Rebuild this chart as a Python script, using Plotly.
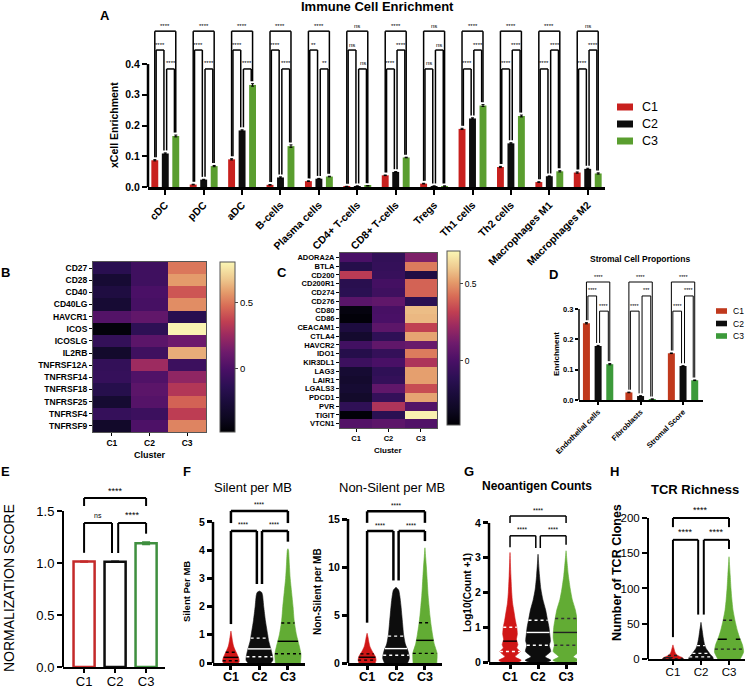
import numpy as np
import plotly.graph_objects as go

W, H = 749, 688
FONT = "Liberation Sans, Arial, Helvetica, sans-serif"


def PX(px):
    return px / W


def PY(py):
    return 1 - py / H


# ======================= DATA =======================
clusters = ["C1", "C2", "C3"]

# --- A: immune cell enrichment (xCell)
immune_cells = ["cDC", "pDC", "aDC", "B-cells", "Plasma cells", "CD4+ T-cells",
                "CD8+ T-cells", "Tregs", "Th1 cells", "Th2 cells",
                "Macrophages M1", "Macrophages M2"]
immune_c1 = [0.087, 0.008, 0.090, 0.007, 0.019, 0.002, 0.038, 0.011, 0.189, 0.065, 0.016, 0.047]
immune_c2 = [0.109, 0.024, 0.184, 0.031, 0.027, 0.003, 0.049, 0.003, 0.223, 0.142, 0.035, 0.059]
immune_c3 = [0.166, 0.068, 0.332, 0.133, 0.034, 0.004, 0.096, 0.003, 0.265, 0.231, 0.051, 0.044]
immune_err_c1 = [0.002, 0.001, 0.002, 0.001, 0.001, 0.0005, 0.001, 0.001, 0.002, 0.002, 0.001, 0.002]
immune_err_c2 = [0.002, 0.001, 0.002, 0.002, 0.001, 0.0005, 0.001, 0.0005, 0.002, 0.002, 0.001, 0.002]
immune_err_c3 = [0.003, 0.002, 0.004, 0.004, 0.001, 0.0005, 0.001, 0.0005, 0.003, 0.003, 0.002, 0.002]
immune_sig_c1c3 = ["****", "****", "****", "****", "****", "ns", "****", "ns", "****", "****", "****", "ns"]
immune_sig_c1c2 = ["****", "****", "****", "****", "**", "ns", "****", "ns", "****", "****", "****", "****"]
immune_sig_c2c3 = ["****", "****", "****", "****", "**", "ns", "****", "ns", "****", "****", "****", "****"]

# --- B: co-stimulatory genes heatmap
genes_B = ["CD27", "CD28", "CD40", "CD40LG", "HAVCR1", "ICOS", "ICOSLG", "IL2RB",
           "TNFRSF12A", "TNFRSF14", "TNFRSF18", "TNFRSF25", "TNFRSF4", "TNFRSF9"]
heatB_c1 = [-0.15, -0.28, -0.22, -0.28, 0.03, -0.45, -0.10, -0.32, -0.10, -0.09, -0.17, -0.29, -0.09, -0.33]
heatB_c2 = [-0.05, -0.05, 0.00, -0.02, 0.08, -0.12, 0.06, -0.05, 0.26, 0.02, 0.06, 0.04, -0.06, 0.01]
heatB_c3 = [0.50, 0.58, 0.42, 0.55, -0.15, 0.80, 0.12, 0.62, -0.06, 0.22, 0.32, 0.45, 0.35, 0.53]

# --- C: co-inhibitory genes heatmap
genes_C = ["ADORA2A", "BTLA", "CD200", "CD200R1", "CD274", "CD276", "CD80", "CD86",
           "CEACAM1", "CTLA4", "HAVCR2", "IDO1", "KIR3DL1", "LAG3", "LAIR1",
           "LGALS3", "PDCD1", "PVR", "TIGIT", "VTCN1"]
heatC_c1 = [0.00, -0.15, 0.30, -0.13, -0.12, 0.05, -0.38, -0.40, -0.20, -0.27,
            -0.03, -0.15, -0.05, -0.25, -0.27, -0.25, -0.28, -0.10, -0.40, 0.03]
heatC_c2 = [-0.09, -0.08, -0.07, -0.02, -0.04, 0.07, -0.01, 0.00, 0.06, -0.10,
            0.07, -0.08, 0.00, -0.10, -0.08, 0.07, -0.08, 0.27, -0.12, 0.06]
heatC_c3 = [0.15, 0.45, -0.18, 0.40, 0.40, -0.12, 0.58, 0.57, 0.32, 0.53,
            0.10, 0.45, 0.27, 0.52, 0.52, 0.35, 0.53, 0.03, 0.70, 0.02]

# --- D: stromal cell proportions
stromal_cats = ["Endothelial cells", "Fibroblasts", "Stromal Score"]
stromal_c1 = [0.253, 0.025, 0.154]
stromal_c2 = [0.178, 0.013, 0.112]
stromal_c3 = [0.118, 0.003, 0.065]
stromal_err_c1 = [0.002, 0.001, 0.001]
stromal_err_c2 = [0.002, 0.001, 0.001]
stromal_err_c3 = [0.002, 0.0005, 0.001]
stromal_sig_c1c3 = ["****", "****", "****"]
stromal_sig_c1c2 = ["****", "****", "****"]
stromal_sig_c2c3 = ["****", "***", "****"]

# --- E: normalization score
norm_score = [1.014, 1.012, 1.19]
norm_err = [0.004, 0.004, 0.012]
norm_sig = {"c1c3": "****", "c1c2": "ns", "c2c3": "****"}

# --- Violin outlines: levels and half-widths (category units)
silent_levels = {
    "C1": [0, 0.05, 0.15, 0.3, 0.45, 0.6, 0.8, 1.0, 1.13],
    "C2": [0, 0.1, 0.3, 0.5, 0.8, 1.0, 1.5, 2.0, 2.4, 2.5, 2.55],
    "C3": [0, 0.3, 0.6, 1.0, 1.5, 2.0, 2.5, 3.0, 3.5, 4.0, 4.05],
}
silent_half = {
    "C1": [0.26, 0.29, 0.28, 0.22, 0.15, 0.09, 0.05, 0.02, 0.0],
    "C2": [0.40, 0.47, 0.45, 0.40, 0.32, 0.29, 0.21, 0.15, 0.11, 0.08, 0.0],
    "C3": [0.44, 0.46, 0.40, 0.30, 0.22, 0.18, 0.13, 0.08, 0.05, 0.02, 0.0],
}
silent_quart = {"C1": [0.08, 0.2, 0.38], "C2": [0.22, 0.5, 0.88], "C3": [0.33, 0.77, 1.42]}

nonsilent_levels = {
    "C1": [0, 0.3, 0.7, 1.2, 1.7, 2.2, 2.7, 3.1],
    "C2": [0, 0.5, 1.2, 2.0, 3.0, 4.0, 5.0, 6.0, 7.0, 7.6, 7.9],
    "C3": [0, 1, 2, 3, 4, 5, 6, 7, 8, 9, 10, 11, 12],
}
nonsilent_half = {
    "C1": [0.28, 0.31, 0.28, 0.18, 0.10, 0.06, 0.03, 0.0],
    "C2": [0.40, 0.46, 0.42, 0.32, 0.26, 0.23, 0.20, 0.17, 0.13, 0.09, 0.0],
    "C3": [0.41, 0.42, 0.32, 0.26, 0.21, 0.17, 0.14, 0.11, 0.09, 0.07, 0.05, 0.025, 0.0],
}
nonsilent_quart = {"C1": [0.3, 0.6, 0.95], "C2": [0.8, 1.5, 2.8], "C3": [1.0, 2.36, 4.2]}

neo_levels = {
    "C1": [0, 0.05, 0.15, 0.3, 0.4, 0.5, 0.65, 0.8, 1.0, 1.2, 1.5, 1.7, 2.0, 2.5, 3.15],
    "C2": [0, 0.05, 0.15, 0.3, 0.48, 0.6, 0.85, 1.0, 1.2, 1.5, 1.8, 2.1, 2.5, 3.1],
    "C3": [0, 0.05, 0.15, 0.3, 0.48, 0.7, 1.0, 1.2, 1.5, 1.8, 2.1, 2.5, 3.2],
}
neo_half = {
    "C1": [0.30, 0.40, 0.18, 0.36, 0.24, 0.28, 0.23, 0.26, 0.24, 0.19, 0.13, 0.09, 0.06, 0.03, 0.0],
    "C2": [0.32, 0.46, 0.25, 0.45, 0.40, 0.44, 0.41, 0.39, 0.34, 0.27, 0.17, 0.10, 0.05, 0.0],
    "C3": [0.32, 0.47, 0.26, 0.46, 0.42, 0.46, 0.44, 0.40, 0.33, 0.22, 0.15, 0.08, 0.0],
}
neo_quart = {"C1": [0.3, 0.6, 1.0], "C2": [0.48, 0.85, 1.2], "C3": [0.48, 0.85, 1.25]}

tcr_levels = {
    "C1": [0, 2, 4, 6, 10, 15, 20],
    "C2": [0, 3, 6, 10, 15, 20, 30, 40, 52],
    "C3": [0, 10, 20, 30, 40, 55, 70, 85, 100, 120, 145],
}
tcr_half = {
    "C1": [0.38, 0.33, 0.22, 0.13, 0.07, 0.035, 0.0],
    "C2": [0.44, 0.42, 0.34, 0.27, 0.18, 0.13, 0.08, 0.045, 0.0],
    "C3": [0.40, 0.52, 0.48, 0.38, 0.30, 0.21, 0.14, 0.10, 0.07, 0.04, 0.0],
}
tcr_quart = {"C1": [0.5, 2, 5], "C2": [3, 8, 19], "C3": [14, 28, 55]}

# ======================= STYLE =======================
A_COLS = ["#c8201e", "#0d0d0d", "#5a9e2f"]
D_COLS = ["#c0391d", "#0d0d0d", "#3c9a3a"]
E_COLS = ["#c42a2a", "#0d0d0d", "#3f8f3f"]
V_COLS = ["#d01616", "#0d0d0d", "#62ac34"]

heat_scale = [[0.0, "#000004"], [0.08, "#0d0820"], [0.18, "#1b0c3c"], [0.27, "#2c1054"],
              [0.37, "#4a1066"], [0.47, "#6e1b6c"], [0.57, "#9c2a60"], [0.65, "#c03f52"],
              [0.74, "#d86c56"], [0.82, "#e49a6a"], [0.90, "#eec88e"], [1.0, "#fbf7b5"]]

fig = go.Figure()
shapes = []
annots = []


def bold(size):
    return dict(family=FONT, size=size, color="black", weight="bold")


def norm(size):
    return dict(family=FONT, size=size, color="black")


def seg(xr, yr, x0, y0, x1, y1, w):
    shapes.append(dict(type="line", xref=xr, yref=yr, x0=x0, y0=y0, x1=x1, y1=y1,
                       line=dict(color="black", width=w), layer="above"))


def bracket(xr, yr, xl, xrt, y, ybl, ybr, label, w, fs, shift=0.5):
    seg(xr, yr, xl, ybl, xl, y, w)
    seg(xr, yr, xl, y, xrt, y, w)
    seg(xr, yr, xrt, y, xrt, ybr, w)
    annots.append(dict(xref=xr, yref=yr, x=(xl + xrt) / 2, y=y, text=label, showarrow=False,
                       yanchor="bottom", yshift=shift, font=norm(fs)))


def yline(n, top, w):
    shapes.append(dict(type="line", xref=f"x{n} domain", yref=f"y{n}", x0=0, x1=0, y0=0, y1=top,
                       line=dict(color="black", width=w), layer="above"))


def text(x, y, s, font, angle=0, xanchor="center"):
    annots.append(dict(xref="paper", yref="paper", x=PX(x), y=PY(y), text=s, showarrow=False,
                       font=font, textangle=angle, xanchor=xanchor, yanchor="middle"))


layout_axes = {}


def axes(n, xdom, ydom, xkw, ykw):
    xs = "" if n == 1 else str(n)
    base = dict(showgrid=False, zeroline=False, ticks="outside", tickcolor="black", automargin=False)
    xa = dict(base, domain=[PX(xdom[0]), PX(xdom[1])], anchor=f"y{xs}")
    xa.update(xkw)
    ya = dict(base, domain=[PY(ydom[1]), PY(ydom[0])], anchor=f"x{xs}")
    ya.update(ykw)
    layout_axes[f"xaxis{xs}"] = xa
    layout_axes[f"yaxis{xs}"] = ya


# ======================= A =======================
A_off = [-0.273, 0.0, 0.273]
A_w = 0.18
A_vals = [immune_c1, immune_c2, immune_c3]
A_errs = [immune_err_c1, immune_err_c2, immune_err_c3]
for k in range(3):
    fig.add_trace(go.Bar(x=immune_cells, y=A_vals[k], width=A_w, offset=A_off[k] - A_w / 2,
                         marker=dict(color=A_COLS[k], line=dict(width=0)), name=clusters[k],
                         error_y=dict(type="data", array=A_errs[k], color="black", thickness=1, width=1.5),
                         xaxis="x", yaxis="y", showlegend=False))
axes(1, (148, 605), (25, 187),
     dict(range=[-0.45, 11.45], showline=True, linecolor="black", linewidth=2.5, ticklen=5, tickwidth=2,
          tickangle=-45, tickfont=bold(10.5)),
     dict(range=[0, 0.527], tickvals=[0, 0.1, 0.2, 0.3, 0.4], tickformat=".1f", ticklen=5, tickwidth=2,
          showline=False, tickfont=bold(10.5)))
yline("", 0.4, 2.5)
yA_top, yA_mid, yA_low = 0.507, 0.4455, 0.384
dA = 0.035
for i in range(12):
    xs = [i + o for o in A_off]
    leg = [A_vals[k][i] + A_errs[k][i] + 0.008 for k in range(3)]
    bracket("x", "y", xs[0], xs[2], yA_top, leg[0], leg[2], immune_sig_c1c3[i], 1.5, 6)
    y12, y23 = (yA_mid, yA_low) if i < 6 else (yA_low, yA_mid)
    bracket("x", "y", xs[0] + dA, xs[1] - dA, y12, leg[0], leg[1], immune_sig_c1c2[i], 1.5, 6)
    bracket("x", "y", xs[1] + dA, xs[2] - dA, y23, leg[1], leg[2], immune_sig_c2c3[i], 1.5, 6)
# legend A (drawn manually)
for k in range(3):
    yc = 107 + 17 * k
    shapes.append(dict(type="rect", xref="paper", yref="paper", x0=PX(617), x1=PX(633),
                       y0=PY(yc + 3.5), y1=PY(yc - 3.5), fillcolor=A_COLS[k], line=dict(width=0)))
    text(640, yc, clusters[k], norm(12.5), xanchor="left")
text(377, 6, "Immune Cell Enrichment", bold(13))
text(114, 125, "xCell Enrichment", bold(10.5), angle=-90)

# ======================= B heatmap =======================
zB = np.column_stack([heatB_c1, heatB_c2, heatB_c3])
fig.add_trace(go.Heatmap(z=zB, x=clusters, y=genes_B, colorscale=heat_scale, zmin=-0.477, zmax=0.81,
                         xaxis="x2", yaxis="y2", xgap=0, ygap=0,
                         colorbar=dict(x=PX(220), xanchor="left", y=PY(347), yanchor="middle",
                                       len=170, lenmode="pixels", thickness=15, thicknessmode="pixels",
                                       xpad=0, ypad=0, outlinewidth=1, outlinecolor="#555",
                                       tickvals=[0, 0.5], ticktext=["0", "0.5"], ticks="outside",
                                       ticklen=3, tickfont=norm(9.5))))
axes(2, (93, 206), (262, 432),
     dict(showline=True, mirror=True, linecolor="#555", linewidth=1, ticklen=3, tickfont=bold(8.5)),
     dict(autorange="reversed", showline=True, mirror=True, linecolor="#555", linewidth=1, ticklen=3,
          tickmode="array", tickvals=genes_B, tickfont=bold(8.5)))
text(150, 455, "Cluster", bold(9))

# ======================= C heatmap =======================
zC = np.column_stack([heatC_c1, heatC_c2, heatC_c3])
fig.add_trace(go.Heatmap(z=zC, x=clusters, y=genes_C, colorscale=heat_scale, zmin=-0.416, zmax=0.714,
                         xaxis="x3", yaxis="y3",
                         colorbar=dict(x=PX(447), xanchor="left", y=PY(338), yanchor="middle",
                                       len=174, lenmode="pixels", thickness=13, thicknessmode="pixels",
                                       xpad=0, ypad=0, outlinewidth=1, outlinecolor="#555",
                                       tickvals=[0, 0.5], ticktext=["0", "0.5"], ticks="outside",
                                       ticklen=3, tickfont=norm(8.5))))
axes(3, (340, 437), (253, 428),
     dict(showline=True, mirror=True, linecolor="#555", linewidth=1, ticklen=3, tickfont=bold(7.5)),
     dict(autorange="reversed", showline=True, mirror=True, linecolor="#555", linewidth=1, ticklen=3,
          tickmode="array", tickvals=genes_C, tickfont=bold(7.5)))
text(388, 450, "Cluster", bold(8))

# ======================= D =======================
D_off = [-0.275, 0.0, 0.275]
D_w = 0.165
D_vals = [stromal_c1, stromal_c2, stromal_c3]
D_errs = [stromal_err_c1, stromal_err_c2, stromal_err_c3]
for k in range(3):
    fig.add_trace(go.Bar(x=stromal_cats, y=D_vals[k], width=D_w, offset=D_off[k] - D_w / 2,
                         marker=dict(color=D_COLS[k], line=dict(width=0)), name=clusters[k],
                         error_y=dict(type="data", array=D_errs[k], color="black", thickness=1, width=1.5),
                         xaxis="x4", yaxis="y4", showlegend=False))
axes(4, (579, 703), (276, 400),
     dict(range=[-0.45, 2.47], showline=True, linecolor="black", linewidth=1.5, ticklen=3, tickwidth=1.5,
          tickangle=-45, tickfont=bold(7.5)),
     dict(range=[0, 0.4088], tickvals=[0, 0.1, 0.2, 0.3], tickformat=".1f", ticklen=3, tickwidth=1.5,
          showline=False, tickfont=bold(7.5)))
yline(4, 0.3, 1.5)
yD_top, yD_mid, yD_low = 0.389, 0.343, 0.293
dD = 0.035
for i in range(3):
    xs = [i + o for o in D_off]
    leg = [D_vals[k][i] + D_errs[k][i] + 0.008 for k in range(3)]
    bracket("x4", "y4", xs[0], xs[2], yD_top, leg[0], leg[2], stromal_sig_c1c3[i], 1, 5.5)
    y12, y23 = (yD_mid, yD_low) if i == 0 else (yD_low, yD_mid)
    bracket("x4", "y4", xs[0] + dD, xs[1] - dD, y12, leg[0], leg[1], stromal_sig_c1c2[i], 1, 5.5)
    bracket("x4", "y4", xs[1] + dD, xs[2] - dD, y23, leg[1], leg[2], stromal_sig_c2c3[i], 1, 5.5)
for k in range(3):
    yc = 311 + 12.5 * k
    shapes.append(dict(type="rect", xref="paper", yref="paper", x0=PX(716), x1=PX(727),
                       y0=PY(yc + 2.8), y1=PY(yc - 2.8), fillcolor=D_COLS[k], line=dict(width=0)))
    text(731, yc, clusters[k], norm(8.5), xanchor="left")
text(640, 259, "Stromal Cell Proportions", bold(8.5))
text(556, 354, "Enrichment", bold(8), angle=-90)

# ======================= E =======================
for k in range(3):
    fig.add_trace(go.Bar(x=[clusters[k]], y=[norm_score[k]], width=0.68,
                         marker=dict(color="white", line=dict(color=E_COLS[k], width=2.5)),
                         error_y=dict(type="data", array=[norm_err[k]], color=E_COLS[k], thickness=1.5, width=4),
                         xaxis="x5", yaxis="y5", showlegend=False, name=clusters[k]))
axes(5, (63, 165), (490, 667),
     dict(range=[-0.68, 2.61], showline=True, linecolor="black", linewidth=2, ticklen=4, tickwidth=2,
          tickfont=norm(13), ticklabelstandoff=-3),
     dict(range=[0, 1.702], tickvals=[0, 0.5, 1.0, 1.5], tickformat=".1f", ticklen=5, tickwidth=2,
          showline=False, tickfont=norm(13)))
yline(5, 1.5, 2)
legE = [norm_score[k] + norm_err[k] + 0.08 for k in range(3)]
bracket("x5", "y5", 0, 2, 1.625, 1.548, 1.548, norm_sig["c1c3"], 2, 9)
bracket("x5", "y5", 0, 0.9, 1.385, legE[0], legE[1], norm_sig["c1c2"], 2, 7, shift=2)
bracket("x5", "y5", 1.1, 2, 1.385, legE[1], legE[2], norm_sig["c2c3"], 2, 9)
text(9, 588, "NORMALIZATION SCORE", norm(14), angle=-90)


# ======================= violins =======================
def violin_panel(n, levels, half, quart, med_styles, q_styles):
    for k, c in enumerate(clusters):
        lv = np.array(levels[c], dtype=float)
        hw = np.array(half[c], dtype=float)
        xs = np.concatenate([k + hw, (k - hw)[::-1]])
        ys = np.concatenate([lv, lv[::-1]])
        fig.add_trace(go.Scatter(x=xs, y=ys, mode="lines", fill="toself", fillcolor=V_COLS[k],
                                 line=dict(color=V_COLS[k], width=0.6, shape="spline", smoothing=0.6),
                                 xaxis=f"x{n}", yaxis=f"y{n}", showlegend=False, hoverinfo="skip"))
        for j, q in enumerate(quart[c]):
            w = float(np.interp(q, lv, hw))
            col, dash = (med_styles[k] if j == 1 else q_styles[k])
            fig.add_trace(go.Scatter(x=[k - w, k + w], y=[q, q], mode="lines",
                                     line=dict(color=col, width=1.4, dash=dash),
                                     xaxis=f"x{n}", yaxis=f"y{n}", showlegend=False, hoverinfo="skip"))


def vio_axes(n, xdom, ydom, xr, yr, ytv, tickfont_x, tickfont_y, lw, standoff):
    axes(n, xdom, ydom,
         dict(range=xr, tickvals=[0, 1, 2], ticktext=clusters, showline=True, linecolor="black",
              linewidth=lw, ticklen=4, tickwidth=lw, tickfont=tickfont_x, ticklabelstandoff=standoff),
         dict(range=yr, tickvals=ytv, ticklen=5, tickwidth=lw, showline=False, tickfont=tickfont_y))
    yline(n, ytv[-1], lw)


med_F = [("black", "solid"), ("white", "solid"), ("black", "solid")]
q_F = [("black", "dot"), ("white", "dot"), ("black", "dot")]

# F left
violin_panel(6, silent_levels, silent_half, silent_quart, med_F, q_F)
vio_axes(6, (213, 305), (505, 663), [-0.63, 2.6], [0, 5.6], [0, 1, 2, 3, 4, 5], bold(12.5), bold(10.5), 2.5, -4)
mx = [max(silent_levels[c]) + 0.25 for c in clusters]
bracket("x6", "y6", 0, 2, 5.39, 4.96, 4.96, "****", 2.5, 6.5)
bracket("x6", "y6", 0, 0.91, 4.68, mx[0], mx[1], "****", 2.5, 6.5)
bracket("x6", "y6", 1.09, 2, 4.68, mx[1], mx[2], "****", 2.5, 6.5)
text(253, 487, "Silent per MB", norm(13))
text(186, 592, "Silent Per MB", bold(9.5), angle=-90)

# F right
violin_panel(7, nonsilent_levels, nonsilent_half, nonsilent_quart, med_F, q_F)
vio_axes(7, (348, 442), (505, 663), [-0.66, 2.59], [0, 16.46], [0, 5, 10, 15], bold(12.5), bold(10.5), 2.5, -4)
mx = [max(nonsilent_levels[c]) + 0.7 for c in clusters]
bracket("x7", "y7", 0, 2, 15.8, 14.6, 14.6, "****", 2.5, 6.5)
bracket("x7", "y7", 0, 0.91, 13.75, mx[0] + 0.4, mx[1], "****", 2.5, 6.5)
bracket("x7", "y7", 1.09, 2, 13.75, mx[1], mx[2], "****", 2.5, 6.5)
text(392, 487, "Non-Silent per MB", norm(13))
text(317, 592, "Non-Silent per MB", bold(10), angle=-90)

# G
med_G = [("black", "solid"), ("white", "solid"), ("#222", "solid")]
q_G = [("white", "dot"), ("white", "dot"), ("#333", "dot")]
violin_panel(8, neo_levels, neo_half, neo_quart, med_G, q_G)
vio_axes(8, (489, 577), (508, 662), [-0.75, 2.39], [0, 4.43], [0, 1, 2, 3, 4], bold(12), bold(10.5), 2.5, -2)
bracket("x8", "y8", 0, 2, 4.2, 4.0, 4.0, "****", 1.5, 6.5)
bracket("x8", "y8", 0, 0.92, 3.63, 3.3, 3.28, "****", 1.5, 6.5)
bracket("x8", "y8", 1.08, 2, 3.63, 3.28, 3.37, "****", 1.5, 6.5)
text(537, 486, "Neoantigen Counts", bold(12))
text(467, 593, "Log10(Count +1)", bold(10), angle=-90)

# H
med_H = [("#222", "dash"), ("white", "dot"), ("black", "dash")]
q_H = [("#222", "dot"), ("white", "dot"), ("#222", "dot")]
violin_panel(9, tcr_levels, tcr_half, tcr_quart, med_H, q_H)
vio_axes(9, (648, 745), (510, 659), [-0.89, 2.57], [0, 211.3], [0, 50, 100, 150, 200], norm(11.5), norm(11.5), 2, -3)
mx = [max(tcr_levels[c]) + 11 for c in clusters]
bracket("x9", "y9", 0, 2, 200, 187, 187, "****", 2, 9)
bracket("x9", "y9", 0, 0.9, 169, mx[0], mx[1], "****", 2, 9)
bracket("x9", "y9", 1.1, 2, 169, mx[1], mx[2], "****", 2, 9)
text(695, 489, "TCR Richness", bold(13))
text(617, 573, "Number of TCR Clones", bold(12.5), angle=-90)

# panel letters
for lab, (x, y) in {"A": (105, 15), "B": (5, 273), "C": (282, 273), "D": (553, 274),
                    "E": (5, 471), "F": (187, 471), "G": (469, 471), "H": (614, 471)}.items():
    text(x, y, lab, bold(13))

fig.update_layout(
    width=W, height=H, margin=dict(l=0, r=0, t=0, b=0, pad=0, autoexpand=False),
    paper_bgcolor="white", plot_bgcolor="white",
    barmode="overlay", showlegend=False,
    font=dict(family=FONT, color="black"),
    shapes=shapes, annotations=annots,
    **layout_axes,
)
fig.write_html("out.html", config={"displayModeBar": False},
               post_script="document.body.style.margin='0';document.body.style.padding='0';"
                           "document.body.style.overflow='hidden';")
